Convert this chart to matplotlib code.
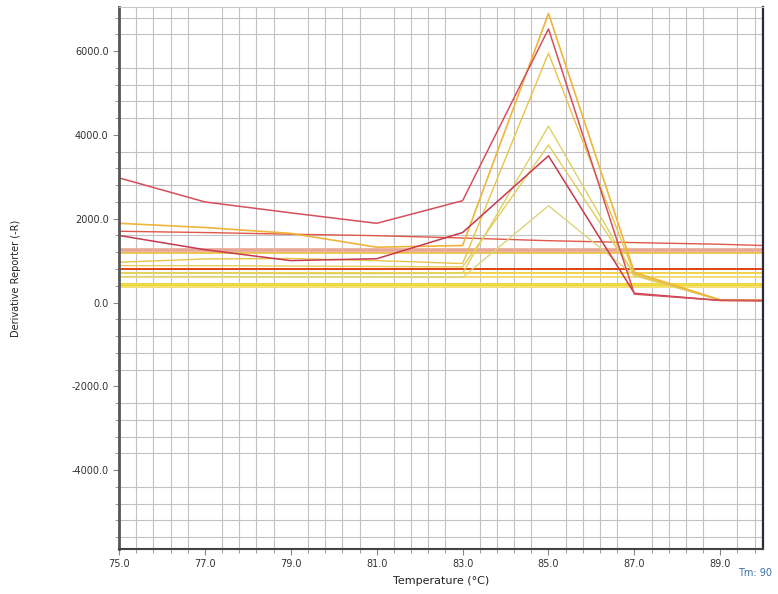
import numpy as np
import matplotlib
matplotlib.use("Agg")
import matplotlib.pyplot as plt
from matplotlib.ticker import MultipleLocator, FixedLocator

# melt curve readings (temperature in C, derivative reporter -R)
temps = [75, 77, 79, 81, 83, 85, 87, 89, 90]
x_labels = [75, 77, 79, 81, 83, 85, 87, 89]

# wells with a melt peak
red_a = [2975, 2400, 2140, 1890, 2430, 6530, 200, 50, 50]
red_b = [1600, 1260, 1000, 1045, 1670, 3500, 220, 50, 40]
yel_1 = [1890, 1790, 1650, 1320, 1360, 6900, 720, 60, 50]
yel_2 = [960, 1040, 1050, 1000, 930, 5950, 680, 60, 50]
yel_3 = [700, 700, 690, 690, 700, 4210, 650, 60, 50]
yel_4 = [880, 880, 870, 860, 850, 3760, 660, 60, 50]
yel_5 = [620, 620, 615, 610, 600, 2310, 640, 60, 50]

# wells without a peak
slope_red = [1700, 1670, 1630, 1595, 1540, 1475, 1430, 1390, 1360]
flat_levels = [1260, 1190, 800, 715, 620, 430, 370]

peak_curves = [
    (yel_5, "#dcd47e", 1.0),
    (yel_4, "#e4cc5c", 1.0),
    (yel_3, "#dcd264", 1.0),
    (yel_2, "#e8c448", 1.0),
    (yel_1, "#f0b43a", 1.2),
    (red_b, "#c8384e", 1.1),
    (red_a, "#d4505c", 1.1),
]
flat_styles = [
    ("#e8a694", 2.6),
    ("#f0c23c", 1.2),
    ("#e04414", 1.4),
    ("#f2d24a", 1.4),
    ("#efd860", 1.2),
    ("#f0d840", 2.2),
    ("#f2e070", 1.4),
]

fig = plt.figure(figsize=(7.78, 5.94), dpi=100)
ax = fig.add_axes([0.153, 0.076, 0.828, 0.912])

ax.set_xlim(75, 90)
ax.set_ylim(-5880, 7050)

# grid: lines every 0.4 C and every 400 units, labels every 2 C / 2000
ax.xaxis.set_major_locator(FixedLocator(x_labels))
ax.xaxis.set_minor_locator(FixedLocator(np.round(np.arange(75, 90.01, 0.4), 1)))
ax.yaxis.set_major_locator(MultipleLocator(2000))
ax.yaxis.set_minor_locator(MultipleLocator(400))
ax.grid(which="minor", color="#c2c2c2", lw=0.8)
ax.grid(which="major", visible=False)
ax.set_axisbelow(True)

ax.xaxis.set_major_formatter(lambda v, p: f"{v:.1f}")
ax.yaxis.set_major_formatter(lambda v, p: f"{v:.1f}")
ax.tick_params(which="both", direction="out", colors="#888888", labelcolor="#333333",
               labelsize=7)
ax.tick_params(which="major", length=4)
ax.tick_params(which="minor", length=3)

# flat wells
for level, (c, w) in zip(flat_levels, flat_styles):
    ax.plot(temps, [level] * len(temps), color=c, lw=w)
ax.plot(temps, slope_red, color="#e05848", lw=1.0)

for vals, c, w in peak_curves:
    ax.plot(temps, vals, color=c, lw=w)

ax.spines["left"].set_color("#555555")
ax.spines["left"].set_linewidth(2.0)
ax.spines["bottom"].set_color("#444444")
ax.spines["bottom"].set_linewidth(1.5)
ax.spines["right"].set_color("#2a2a3a")
ax.spines["right"].set_linewidth(1.6)
ax.spines["top"].set_color("#c8c8c8")
ax.spines["top"].set_linewidth(0.8)

ax.set_xlabel("Temperature (°C)", fontsize=8, color="#222222", labelpad=5)
ax.set_ylabel("Derivative Reporter (-R)", fontsize=7, color="#222222", labelpad=36)

fig.text(0.949, 0.030, "Tm: 90", fontsize=7, color="#3a6ea5")

fig.savefig("out.png", dpi=100)
